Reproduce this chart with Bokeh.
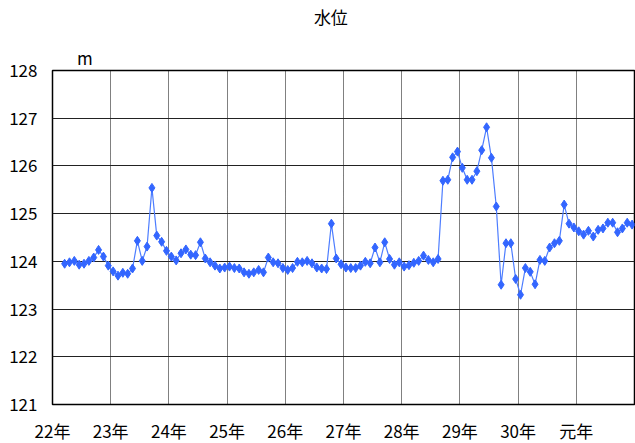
from bokeh.plotting import figure
from bokeh.models import FixedTicker, LinearAxis, Range1d, ColumnDataSource
from bokeh.embed import file_html
from bokeh.resources import INLINE

# Categories: fiscal years (labels at year boundaries, 12 months each)
year_labels = ["22年", "23年", "24年", "25年", "26年", "27年", "28年", "29年", "30年", "元年"]
months_per_year = 12
first_month = 2  # data starts at the 3rd month slot of 22年

# Monthly water level (m)
water_level = [
    123.95, 123.98, 124.01, 123.93, 123.95, 124.01, 124.08, 124.24, 124.10, 123.91,
    123.79, 123.70, 123.76, 123.74, 123.85, 124.43, 124.01, 124.31, 125.54, 124.54,
    124.41, 124.22, 124.10, 124.02, 124.17, 124.25, 124.14, 124.13, 124.40, 124.06,
    123.98, 123.91, 123.85, 123.87, 123.89, 123.86, 123.85, 123.77, 123.74, 123.77,
    123.82, 123.77, 124.08, 123.98, 123.96, 123.86, 123.82, 123.86, 123.99, 123.98,
    124.01, 123.96, 123.87, 123.85, 123.84, 124.79, 124.06, 123.94, 123.87, 123.86,
    123.86, 123.91, 123.99, 123.96, 124.29, 123.98, 124.40, 124.05, 123.93, 123.98,
    123.89, 123.92, 123.97, 124.01, 124.12, 124.03, 123.98, 124.05, 125.69, 125.71,
    126.18, 126.30, 125.96, 125.71, 125.71, 125.89, 126.33, 126.81, 126.17, 125.15,
    123.51, 124.38, 124.38, 123.63, 123.30, 123.86, 123.78, 123.52, 124.03, 124.01,
    124.29, 124.38, 124.43, 125.19, 124.79, 124.71, 124.63, 124.56, 124.64, 124.52,
    124.66, 124.69, 124.81, 124.81, 124.61, 124.69, 124.81, 124.77,
]
y_ticks = [121, 122, 123, 124, 125, 126, 127, 128]
unit_text = "m"
title_text = "水位"

month_pos = [first_month + i + 0.5 for i in range(len(water_level))]
src = ColumnDataSource(dict(x=month_pos, y=water_level))

n_years = len(year_labels)
year_ticks = [k * months_per_year for k in range(n_years)]
x_end = n_years * months_per_year

FONT = "Noto Sans CJK JP"
FS = "17px"

p = figure(frame_width=582, frame_height=334, output_backend="svg", toolbar_location=None,
           x_range=Range1d(0, x_end), y_range=Range1d(y_ticks[0], y_ticks[-1]),
           min_border_left=52, min_border_right=1, min_border_bottom=30, min_border_top=0,
           title=None)

p.outline_line_color = "black"
p.outline_line_width = 1.5


def style_axis(ax, standoff):
    ax.axis_line_color = None
    ax.major_tick_out = 0
    ax.major_tick_in = 0
    ax.minor_tick_out = 0
    ax.minor_tick_in = 0
    ax.axis_label_standoff = 0
    ax.major_label_standoff = standoff
    ax.major_label_text_font = FONT
    ax.major_label_text_font_size = FS
    ax.major_label_text_color = "black"


# x axis
p.xaxis.ticker = FixedTicker(ticks=year_ticks)
p.xaxis.major_label_overrides = {t: lab for t, lab in zip(year_ticks, year_labels)}
style_axis(p.xaxis[0], 13)

# y axis
p.yaxis.ticker = FixedTicker(ticks=y_ticks)
style_axis(p.yaxis[0], 15)

# unit text above the frame (top-left) and chart title, as label-only axes
unit_pos = 6.7
title_pos = 57.4
unit_axis = LinearAxis(ticker=FixedTicker(ticks=[unit_pos]),
                       major_label_overrides={unit_pos: unit_text})
style_axis(unit_axis, 1)
p.add_layout(unit_axis, "above")

title_axis = LinearAxis(ticker=FixedTicker(ticks=[title_pos]),
                        major_label_overrides={title_pos: title_text})
style_axis(title_axis, 13)
p.add_layout(title_axis, "above")

# grids
p.xgrid.ticker = FixedTicker(ticks=year_ticks)
p.xgrid.grid_line_color = "black"
p.xgrid.grid_line_dash = "1 1"
p.xgrid.grid_line_width = 1
p.ygrid.ticker = FixedTicker(ticks=y_ticks)
p.ygrid.grid_line_color = "#222222"
p.ygrid.grid_line_width = 1.2

p.line("x", "y", source=src, line_color="#4d7dff", line_width=1.2)
p.scatter("x", "y", source=src, marker="diamond", size=9, fill_color="#3366ff", line_color="#3366ff")

open("out.html", "w").write(file_html(p, INLINE))
